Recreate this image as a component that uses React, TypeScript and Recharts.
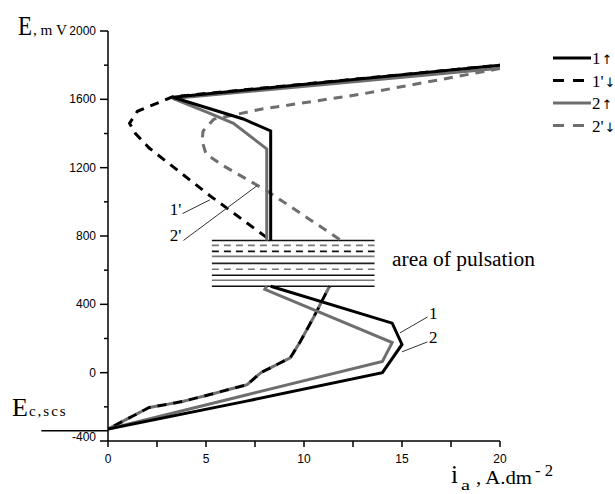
import React from 'react';
import { LineChart, Line, XAxis, YAxis, ReferenceLine, ReferenceDot } from 'recharts';

// curve 1 (anodic sweep up) and 1' (sweep down), curve 2 and 2'
const curve1Up = [
  { i: 0, E: -330 }, { i: 7, E: -168 }, { i: 14.0, E: 0 }, { i: 15.0, E: 165 },
  { i: 14.5, E: 290 }, { i: 8.3, E: 506 }, { i: 8.3, E: null },
  { i: 8.3, E: 774 }, { i: 8.3, E: 1415 }, { i: 6.9, E: 1485 }, { i: 3.3, E: 1612 }, { i: 20, E: 1800 },
];
const curve2Up = [
  { i: 0, E: -330 }, { i: 7, E: -132 }, { i: 14.0, E: 65 }, { i: 14.5, E: 176 },
  { i: 8.0, E: 488 }, { i: 8.1, E: 506 }, { i: 8.1, E: null },
  { i: 8.1, E: 774 }, { i: 8.1, E: 1310 }, { i: 6.4, E: 1460 }, { i: 5.2, E: 1518 }, { i: 3.3, E: 1605 }, { i: 20, E: 1782 },
];
const dashedLower = [
  { i: 11.3, E: 506 }, { i: 10.5, E: 326 }, { i: 9.8, E: 180 }, { i: 9.3, E: 87 }, { i: 7.8, E: 0 },
  { i: 7.1, E: -70 }, { i: 5.2, E: -128 }, { i: 3.8, E: -169 }, { i: 2.1, E: -204 }, { i: 0, E: -330 },
];
const curve1Down = [
  { i: 20, E: 1800 }, { i: 3.3, E: 1615 }, { i: 1.5, E: 1530 }, { i: 1.1, E: 1460 }, { i: 1.4, E: 1400 },
  { i: 2.1, E: 1315 }, { i: 5.2, E: 1036 }, { i: 8.3, E: 774 }, { i: 8.3, E: null },
  ...dashedLower,
];
const curve2Down = [
  { i: 20, E: 1780 }, { i: 12.9, E: 1630 }, { i: 7.8, E: 1542 }, { i: 5.4, E: 1484 }, { i: 4.85, E: 1414 },
  { i: 4.8, E: 1356 }, { i: 5.0, E: 1280 }, { i: 5.9, E: 1210 }, { i: 8.1, E: 1065 }, { i: 11.3, E: 820 },
  { i: 11.9, E: 774 }, { i: 11.9, E: null },
  ...dashedLower,
];

const xTicks = [0, 2.5, 5, 7.5, 10, 12.5, 15, 17.5, 20];
const yTicks = [-400, -200, 0, 200, 400, 600, 800, 1000, 1200, 1400, 1600, 1800, 2000];

// area of pulsation
const pulsationLevels = [774, 745, 710, 681, 640, 605, 570, 541, 506];
const pulsationRange = [5.3, 13.6];
const pulsationStyles = [
  { stroke: '#111', dash: undefined }, { stroke: '#777', dash: '7 5' }, { stroke: '#111', dash: '7 5' },
  { stroke: '#777', dash: undefined }, { stroke: '#222', dash: undefined }, { stroke: '#777', dash: '7 5' },
  { stroke: '#111', dash: undefined }, { stroke: '#777', dash: undefined }, { stroke: '#111', dash: undefined },
];

const BLACK = '#000';
const GRAY = '#6e6e6e';

const series = [
  { key: '2d', label: "2'", arrow: '↓', data: curve2Down, color: GRAY, dash: '9 7' },
  { key: '1d', label: "1'", arrow: '↓', data: curve1Down, color: BLACK, dash: '9 7' },
  { key: '2', label: '2', arrow: '↑', data: curve2Up, color: GRAY, dash: undefined },
  { key: '1', label: '1', arrow: '↑', data: curve1Up, color: BLACK, dash: undefined },
];
const legendOrder = ['1', '1d', '2', '2d'];

// leader lines for the curve labels
const leaders = [
  { text: "1'", at: { i: 3.45, E: 960 }, from: { i: 3.8, E: 931 }, to: { i: 5.2, E: 1012 } },
  { text: "2'", at: { i: 3.45, E: 805 }, from: { i: 3.85, E: 774 }, to: { i: 7.6, E: 1094 } },
  { text: '1', at: { i: 16.6, E: 352 }, from: { i: 14.9, E: 233 }, to: { i: 16.3, E: 326 } },
  { text: '2', at: { i: 16.6, E: 208 }, from: { i: 15.0, E: 122 }, to: { i: 16.3, E: 180 } },
];

const SERIF = '"Liberation Serif", "DejaVu Serif", serif';
const SANS = '"Liberation Sans", Arial, sans-serif';

const YTick = (props: any) => {
  const { x, y, payload } = props;
  const v = payload.value;
  const major = v % 400 === 0;
  return (
    <g>
      <line x1={x - (major ? 8 : 4)} x2={x} y1={y} y2={y} stroke="#000" strokeWidth={1.5} />
      {major && (
        <text x={x - 12} y={y + (v === -400 ? 0 : 4)} textAnchor="end" fontSize={12} fontFamily={SANS} fill="#000">
          {v}
        </text>
      )}
    </g>
  );
};

const XTick = (props: any) => {
  const { x, y, payload } = props;
  const v = payload.value;
  const major = v % 5 === 0;
  return (
    <g>
      <line x1={x} x2={x} y1={y} y2={y + 6} stroke="#000" strokeWidth={1.5} />
      {major && (
        <text x={x} y={y + 22} textAnchor="middle" fontSize={12} fontFamily={SANS} fill="#000">
          {v}
        </text>
      )}
    </g>
  );
};

export default function App() {
  return (
    <div style={{ position: 'absolute', left: 0, top: 0, width: 615, height: 494, background: '#fff' }}>
      <LineChart width={615} height={494} margin={{ top: 31, right: 115, left: 48, bottom: 23 }}>
        <XAxis
          type="number"
          dataKey="i"
          domain={[0, 20]}
          ticks={xTicks}
          allowDataOverflow
          tickSize={0}
          tickMargin={0}
          height={30}
          tickLine={false}
          axisLine={{ stroke: '#000', strokeWidth: 1.5 }}
          tick={<XTick />}
        />
        <YAxis
          type="number"
          dataKey="E"
          domain={[-400, 2000]}
          ticks={yTicks}
          allowDataOverflow
          tickSize={0}
          tickMargin={0}
          width={60}
          tickLine={false}
          axisLine={{ stroke: '#000', strokeWidth: 1.5 }}
          tick={<YTick />}
        />
        {pulsationLevels.map((lv, k) => (
          <ReferenceLine
            key={'p' + k}
            segment={[{ x: pulsationRange[0], y: lv }, { x: pulsationRange[1], y: lv }]}
            stroke={pulsationStyles[k].stroke}
            strokeDasharray={pulsationStyles[k].dash}
            strokeWidth={1.6}
          />
        ))}
        <ReferenceLine
          segment={[{ x: -3.4, y: -340 }, { x: 0, y: -340 }]}
          ifOverflow="visible"
          stroke="#000"
          strokeWidth={1.5}
        />
        {series.map((s) => (
          <Line
            key={s.key}
            data={s.data}
            dataKey="E"
            type="linear"
            stroke={s.color}
            strokeWidth={3}
            strokeDasharray={s.dash}
            strokeDashoffset={s.key === '1d' ? 8 : 0}
            dot={false}
            activeDot={false}
            connectNulls={false}
            isAnimationActive={false}
          />
        ))}
        {leaders.map((l, k) => (
          <ReferenceLine
            key={'l' + k}
            segment={[{ x: l.from.i, y: l.from.E }, { x: l.to.i, y: l.to.E }]}
            stroke="#333"
            strokeWidth={1}
          />
        ))}
        {leaders.map((l, k) => (
          <ReferenceDot
            key={'t' + k}
            x={l.at.i}
            y={l.at.E}
            r={0}
            stroke="none"
            fill="none"
            label={{ value: l.text, position: 'center', fontSize: 17, fontFamily: SERIF, fill: '#000' }}
          />
        ))}
      </LineChart>
      <svg width={615} height={494} style={{ position: 'absolute', left: 0, top: 0, pointerEvents: 'none' }}>
        {/* y axis title */}
        <text x={18} y={35} fontSize={28} fontFamily={SERIF} textLength={14} lengthAdjust="spacingAndGlyphs">E</text>
        <text x={33} y={35} fontSize={15} fontFamily={SERIF} textLength={34} lengthAdjust="spacingAndGlyphs">, m V</text>
        {/* corrosion potential */}
        <text x={12} y={416} fontFamily={SERIF} fill="#000">
          <tspan fontSize={26}>E</tspan>
          <tspan fontSize={15} letterSpacing={2} dx={1}>c,scs</tspan>
        </text>
        {/* x axis title */}
        <text x={451} y={483} fontSize={25} fontFamily={SERIF} textLength={7} lengthAdjust="spacingAndGlyphs">i</text>
        <text x={461} y={490} fontSize={14} fontFamily={SERIF} textLength={9} lengthAdjust="spacingAndGlyphs">a</text>
        <text x={476} y={484} fontSize={19} fontFamily={SERIF} textLength={56} lengthAdjust="spacingAndGlyphs">, A.dm</text>
        <text x={535} y={476} fontSize={17} fontFamily={SERIF} textLength={18} lengthAdjust="spacingAndGlyphs">- 2</text>
        {/* area label */}
        <text x={392} y={266} fontSize={20} fontFamily={SERIF} textLength={143} lengthAdjust="spacingAndGlyphs">area of pulsation</text>
        {/* legend */}
        {legendOrder.map((key, k) => {
          const s = series.find((d) => d.key === key)!;
          const y = 58 + k * 22.5;
          return (
            <g key={s.key}>
              <line x1={553} x2={591} y1={y} y2={y} stroke={s.color} strokeWidth={3} strokeDasharray={s.dash ? '11 9' : undefined} />
              <text x={592} y={y + 6} fontSize={17} fontFamily={SERIF} fill="#000">
                {s.label}
                <tspan fontSize={13} fontFamily='"DejaVu Sans", sans-serif' fill="#000" dx={1}>{s.arrow}</tspan>
              </text>
            </g>
          );
        })}
      </svg>
    </div>
  );
}
